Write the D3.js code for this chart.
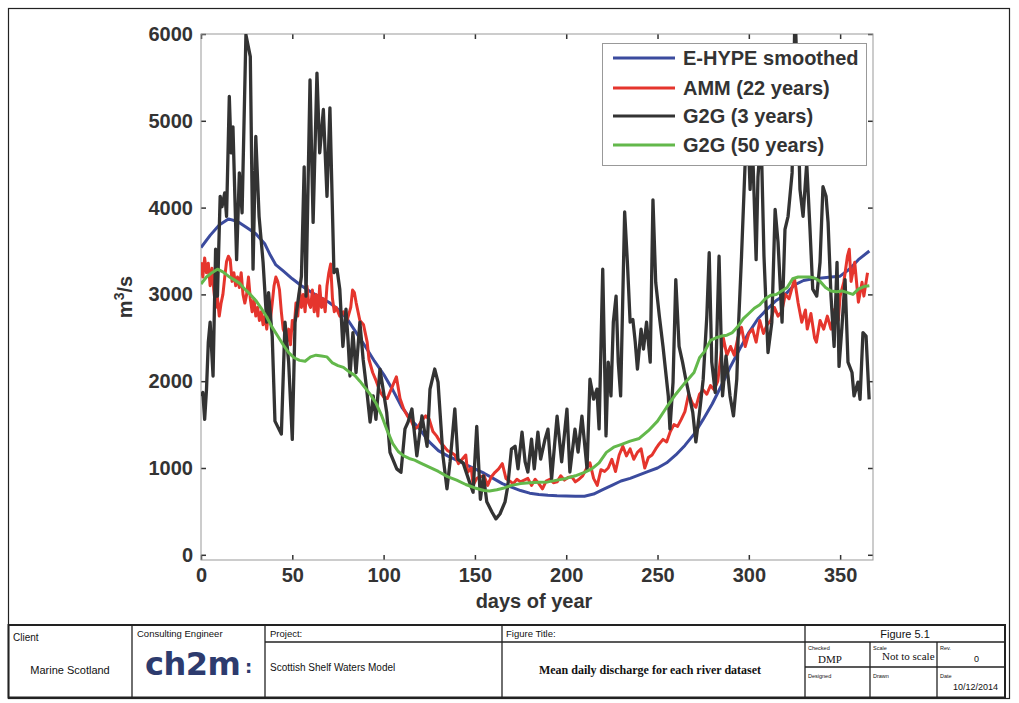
<!DOCTYPE html>
<html>
<head>
<meta charset="utf-8">
<script src="https://cdn.jsdelivr.net/npm/d3@7.9.0/dist/d3.min.js"></script>
<style>
  body { margin: 0; background: #fff; }
  svg { display: block; font-family: "Liberation Sans", Arial, sans-serif; }
</style>
</head>
<body>
<div id="viz"></div>
<script>
// ---- data: [day of year, discharge m3/s] ----
const eHypeSmoothed = [[0,3540],[5,3680],[10,3800],[15,3870],[20,3840],[25,3770],[30,3700],[35,3580],[38,3450],[41,3340],[45,3270],[50,3180],[55,3100],[60,3030],[65,2970],[70,2910],[75,2830],[80,2720],[85,2560],[90,2400],[95,2230],[100,2080],[105,1900],[110,1700],[115,1560],[120,1440],[125,1300],[130,1200],[135,1140],[140,1090],[145,1040],[150,990],[155,940],[160,880],[165,820],[170,780],[175,740],[180,710],[185,695],[190,685],[195,680],[200,678],[205,675],[210,675],[215,700],[220,750],[225,800],[230,850],[235,880],[240,920],[245,960],[250,1000],[255,1060],[260,1150],[265,1260],[270,1390],[275,1560],[280,1740],[285,1950],[290,2170],[295,2370],[300,2560],[305,2720],[310,2830],[315,2930],[320,3000],[325,3110],[330,3160],[335,3180],[340,3190],[345,3200],[350,3210],[355,3290],[360,3400],[366,3500]];

const amm22 = [[0,3370],[1,3200],[2,3420],[3,3250],[4,3360],[5,3100],[6,3300],[7,3050],[8,2850],[9,2960],[10,2750],[11,2900],[12,3000],[13,3200],[14,3380],[15,3440],[16,3400],[17,3150],[18,3250],[19,3100],[20,3200],[21,3080],[22,3250],[23,3000],[24,2900],[25,3000],[26,3200],[27,2950],[28,2800],[29,2950],[30,2750],[31,2850],[32,2700],[33,2800],[34,2650],[35,2750],[36,2600],[37,2800],[38,2700],[39,2900],[40,3100],[41,3200],[42,3150],[43,3050],[44,2800],[45,2600],[46,2550],[47,2450],[48,2600],[49,2420],[50,2700],[51,2600],[52,2900],[53,2750],[54,3050],[55,2850],[56,3000],[57,2800],[58,3100],[59,2900],[60,2850],[61,3050],[62,2800],[63,3000],[64,2750],[65,3100],[66,2850],[67,2950],[68,2800],[69,3100],[70,3250],[71,3350],[72,2950],[73,2800],[74,2850],[76,2750],[78,2800],[80,2700],[82,2850],[83,3050],[84,3020],[85,2900],[87,2700],[89,2650],[91,2450],[92,2250],[94,2100],[96,2000],[98,1880],[100,1820],[102,1800],[104,1900],[106,2000],[107,2050],[109,1800],[111,1680],[113,1600],[115,1550],[117,1450],[119,1480],[121,1550],[123,1600],[125,1560],[127,1420],[129,1370],[131,1300],[133,1250],[135,1200],[137,1180],[139,1150],[141,1050],[143,1100],[145,1150],[146,950],[148,1000],[149,800],[151,880],[153,900],[155,910],[157,800],[159,900],[161,950],[163,990],[165,1050],[167,880],[169,850],[171,820],[173,870],[175,840],[177,860],[179,880],[181,800],[183,870],[185,820],[187,760],[189,850],[191,870],[193,830],[195,840],[197,910],[199,860],[201,890],[203,900],[205,840],[207,870],[209,910],[211,990],[213,1060],[215,880],[217,800],[219,980],[221,960],[223,1000],[225,1100],[227,960],[229,1150],[231,1250],[233,1140],[235,1220],[237,1100],[239,1180],[241,1220],[243,1000],[245,1120],[247,1150],[249,1220],[251,1280],[253,1330],[255,1300],[257,1420],[259,1500],[261,1480],[263,1560],[265,1650],[267,1850],[269,1750],[271,1700],[273,1850],[275,1900],[277,1850],[279,1950],[281,1900],[283,2000],[285,2350],[286,2500],[288,2300],[290,2400],[292,2300],[294,2500],[296,2620],[298,2400],[300,2550],[302,2600],[304,2450],[306,2700],[308,2550],[310,2650],[312,2700],[314,2850],[316,2750],[318,2800],[320,3000],[322,2950],[324,3100],[325,3180],[327,2900],[329,2680],[331,2820],[332,2600],[334,2780],[336,2500],[337,2450],[339,2700],[341,2600],[343,2750],[345,2600],[347,2830],[349,2700],[350,2980],[352,3140],[354,3440],[355,3520],[356,3150],[358,3370],[360,2910],[362,3140],[363,2980],[365,3250]];

const g2g3 = [[0,1830],[1,1870],[2,1560],[3,1900],[4,2450],[5,2680],[6.6,2060],[8,3520],[9,2980],[10.5,4130],[11.5,4010],[13,4170],[14,3900],[15.5,5280],[16.5,4630],[17.5,4930],[19.5,3400],[21,4400],[22.5,3940],[24.6,5990],[27,5740],[28.5,3290],[30,4820],[31.8,3900],[34,3370],[36,2680],[37,3020],[39,2520],[40.5,1540],[44,1390],[46,2680],[48,2220],[50,1330],[51.5,2680],[55,3210],[56.5,4470],[57.5,2980],[59.7,5470],[61.4,3830],[63.5,5550],[65,4630],[67,5130],[69,4130],[70.6,5150],[72.8,3250],[74.5,3290],[76,3060],[77.7,2400],[79.4,2830],[80.5,2480],[81.6,2060],[83.2,2560],[84.9,2100],[87,2680],[88.8,2250],[90.7,1910],[92.6,1530],[94.3,1830],[95.8,1560],[98,2140],[101.7,1640],[103.5,1180],[107.2,990],[109.5,950],[111.7,1450],[113.4,1530],[115.5,1680],[118.2,1140],[121,1600],[123.8,1250],[125.4,1910],[128,2140],[129.8,1990],[132.5,1140],[134.7,760],[136.4,1070],[139,1680],[140.7,1100],[143.5,1060],[147,840],[149,720],[151,1480],[153,640],[154.7,910],[156.5,610],[159.4,490],[161.5,414],[163.7,470],[166.5,610],[168,793],[170,1218],[172,1250],[173.6,990],[175.8,1414],[177.5,1070],[179,954],[181,1333],[182.5,990],[184.5,1414],[186,1103],[188.4,1333],[190,1448],[192,874],[195,1598],[197.5,1070],[200.4,1678],[202,954],[204.8,1448],[206.5,1184],[208.6,1598],[211.4,990],[213,2023],[215,1793],[216.8,1908],[218,1450],[220,3290],[221.8,1370],[223,2220],[224.5,1830],[225.8,2680],[227.3,2980],[228.5,2220],[229.8,1830],[232,3950],[233.5,3370],[235,2680],[236.5,2710],[237.8,2450],[239,2140],[241,2600],[242.3,2370],[244,2680],[246,2220],[247.5,4090],[249,3140],[251,2750],[253,2400],[255.9,1830],[256.8,1450],[258.5,1990],[260,3170],[261.8,2400],[263.7,2220],[265.5,2020],[267.4,1830],[269.3,1640],[271,1300],[273,1640],[275,2020],[277,2750],[278.3,3480],[279.7,2220],[281.6,1870],[283.7,3440],[285.6,1830],[287.5,2290],[289.7,1830],[291.6,1600],[293.4,2020],[294.5,2710],[296,3440],[297.9,4470],[299.5,4930],[300.7,4210],[301.8,4860],[304,3400],[305,4350],[306.7,4860],[308.3,3440],[310.5,2330],[312.6,2680],[314.4,3980],[316,3600],[318.2,2680],[319.8,3750],[321.5,3900],[323.7,4400],[325.3,6300],[326.5,5470],[328,4210],[329.7,3900],[331.7,4510],[333.5,3750],[335,3060],[337.2,2980],[339,3370],[340.6,4240],[342.3,4130],[343.4,3830],[345,2980],[346.7,2400],[348.3,3370],[349.4,2170],[351,2630],[352.7,3170],[354.3,2220],[356.5,2100],[357.6,1830],[359.8,1990],[360.9,1790],[362.5,2560],[364.2,2520],[365.9,1790]];

const g2g50 = [[0,3120],[3,3200],[6,3250],[9,3290],[12,3260],[15,3210],[18,3170],[21,3130],[24,3060],[27,3000],[30,2930],[33,2840],[36,2740],[39,2620],[42,2520],[45,2420],[48,2330],[51,2270],[54,2240],[57,2230],[60,2280],[63,2300],[66,2290],[69,2280],[72,2210],[75,2180],[78,2160],[81,2110],[84,2070],[87,2000],[90,1920],[93,1840],[96,1740],[99,1600],[102,1430],[105,1280],[108,1190],[111,1140],[114,1110],[117,1090],[120,1060],[125,1010],[130,960],[135,900],[140,860],[145,810],[150,770],[155,740],[158,735],[162,750],[166,770],[170,800],[175,820],[180,830],[185,835],[190,840],[195,860],[200,880],[205,910],[210,950],[214,990],[218,1060],[222,1180],[226,1240],[230,1270],[235,1310],[240,1340],[245,1430],[250,1540],[255,1700],[260,1850],[265,1980],[270,2100],[273,2270],[276,2350],[279,2470],[282,2500],[285,2520],[288,2530],[291,2560],[294,2630],[297,2720],[300,2780],[303,2840],[306,2880],[309,2950],[312,2990],[315,3000],[318,3040],[321,3080],[324,3180],[327,3200],[330,3200],[333,3200],[336,3190],[339,3150],[342,3080],[345,3040],[348,3030],[351,3040],[354,3020],[357,3000],[360,3060],[363,3090],[366,3100]];

const seriesNames = ["E-HYPE smoothed", "AMM (22 years)", "G2G (3 years)", "G2G (50 years)"];
const seriesColors = ["#3b4b9e", "#e5352d", "#333333", "#63b84b"];
const xTicks = [0, 50, 100, 150, 200, 250, 300, 350];
const yTicks = [0, 1000, 2000, 3000, 4000, 5000, 6000];

const W = 1019, H = 703;
const svg = d3.select('#viz').append('svg')
    .attr('width', W)
    .attr('height', H);

// plot area (MATLAB style box)
const x = d3.scaleLinear().domain([0, 368]).range([201, 873]);
const y = d3.scaleLinear().domain([-60, 6000]).range([560, 34]);

svg.append('clipPath').attr('id', 'plotClip')
  .append('rect')
    .attr('x', x(0)).attr('y', y(6000))
    .attr('width', x(368) - x(0)).attr('height', y(-60) - y(6000));

// axes with inward ticks
svg.append('g')
    .attr('transform', `translate(${x(0)},0)`)
    .call(d3.axisLeft(y).tickValues(yTicks).tickFormat(d3.format('d')).tickSize(-5).tickPadding(8));
svg.append('g')
    .attr('transform', `translate(0,${y(-60)})`)
    .call(d3.axisBottom(x).tickValues(xTicks).tickFormat(d3.format('d')).tickSize(-5).tickPadding(8));
// ticks on right and top too
svg.append('g')
    .attr('transform', `translate(${x(368)},0)`)
    .call(d3.axisRight(y).tickValues(yTicks).tickSize(-5).tickFormat(''));
svg.append('g')
    .attr('transform', `translate(0,${y(6000)})`)
    .call(d3.axisTop(x).tickValues(xTicks).tickSize(-5).tickFormat(''));

svg.selectAll('.domain').remove();
svg.selectAll('.tick line').attr('stroke', '#333').attr('stroke-width', 1.5);
svg.selectAll('.tick text')
    .attr('font-family', '"Liberation Sans", Arial, sans-serif')
    .attr('font-size', 20)
    .attr('font-weight', 'bold')
    .attr('fill', '#333');

svg.append('rect')
    .attr('x', x(0)).attr('y', y(6000))
    .attr('width', x(368) - x(0)).attr('height', y(-60) - y(6000))
    .attr('fill', 'none')
    .attr('stroke', '#999')
    .attr('stroke-width', 1);

// lines
const line = d3.line()
    .x(d => x(d[0]))
    .y(d => y(d[1]));

const plotG = svg.append('g').attr('clip-path', 'url(#plotClip)');
[eHypeSmoothed, amm22, g2g3, g2g50].forEach((s, i) => {
  plotG.append('path')
    .datum(s)
    .attr('fill', 'none')
    .attr('stroke', seriesColors[i])
    .attr('stroke-width', i === 2 ? 3.3 : 3)
    .attr('stroke-linejoin', 'round')
    .attr('d', line);
});

// axis titles
svg.append('text')
    .attr('x', 534).attr('y', 608)
    .attr('text-anchor', 'middle')
    .attr('font-size', 20).attr('font-weight', 'bold').attr('fill', '#333')
    .text('days of year');

const yl = svg.append('text')
    .attr('transform', 'translate(132,297) rotate(-90)')
    .attr('text-anchor', 'middle')
    .attr('font-size', 20).attr('font-weight', 'bold').attr('fill', '#333');
yl.append('tspan').text('m');
yl.append('tspan').attr('font-size', 14).attr('dy', -8).text('3');
yl.append('tspan').attr('dy', 8).text('/s');

// legend
const legend = svg.append('g');
legend.append('rect')
    .attr('x', 602.5).attr('y', 43.5)
    .attr('width', 264).attr('height', 122)
    .attr('fill', '#fff').attr('stroke', '#999');
const legendRowsY = [58, 88, 116, 145];
const rows = legend.selectAll('.legendItem')
  .data(seriesNames)
  .join('g')
    .attr('class', 'legendItem')
    .attr('transform', (d, i) => `translate(0,${legendRowsY[i]})`);
rows.append('line')
    .attr('x1', 613).attr('x2', 675)
    .attr('stroke', (d, i) => seriesColors[i])
    .attr('stroke-width', 3);
rows.append('text')
    .attr('x', 683).attr('dy', '0.35em')
    .attr('font-size', 20).attr('font-weight', 'bold').attr('fill', '#333')
    .text(d => d);

// ---- drawing frame and title block ----
const frame = svg.append('g').attr('fill', 'none').attr('stroke', '#222');
frame.append('rect').attr('x', 8.5).attr('y', 8.5).attr('width', 1001).attr('height', 690).attr('stroke-width', 1.2);
frame.append('rect').attr('x', 8.5).attr('y', 625).attr('width', 996.5).attr('height', 72.5).attr('stroke-width', 2);
const blockLines = [
  [132, 625, 132, 697], [265, 625, 265, 697], [502, 625, 502, 697], [805, 625, 805, 697],
  [265, 642, 1005, 642], [805, 667, 1005, 667], [870, 642, 870, 697], [937, 642, 937, 697]
];
frame.selectAll('line.block').data(blockLines).join('line')
    .attr('x1', d => d[0]).attr('y1', d => d[1])
    .attr('x2', d => d[2]).attr('y2', d => d[3])
    .attr('stroke-width', 1.3);

const tb = svg.append('g').attr('fill', '#111');
function label(txt, xp, yp, size, opts = {}) {
  return tb.append('text')
    .attr('x', xp).attr('y', yp)
    .attr('font-size', size)
    .attr('font-family', opts.serif ? '"Liberation Serif", "Times New Roman", serif' : '"Liberation Sans", Arial, sans-serif')
    .attr('font-weight', opts.bold ? 'bold' : 'normal')
    .attr('text-anchor', opts.anchor || 'start')
    .text(txt);
}
label('Client', 13, 641, 10);
label('Marine Scotland', 70, 674, 11, {anchor: 'middle'});
label('Consulting Engineer', 137, 637, 9.5);
label('Project:', 270, 637, 9.5);
label('Scottish Shelf Waters Model', 270, 671, 10);
label('Figure Title:', 506, 637, 9.5);
label('Mean daily discharge for each river dataset', 650, 674, 12, {serif: true, bold: true, anchor: 'middle'});
label('Figure 5.1', 905, 638, 11, {anchor: 'middle'});
label('Checked', 808, 650, 5.5);
label('DMP', 818, 663, 11, {serif: true});
label('Scale', 873, 650, 5.5);
label('Not to scale', 882, 660, 11, {serif: true});
label('Rev.', 940, 650, 5.5);
label('0', 974, 662, 9);
label('Designed', 808, 678, 5.5);
label('Drawn', 873, 678, 5.5);
label('Date', 940, 678, 5.5);
label('10/12/2014', 953, 690, 9);

// ch2m logo as text
tb.append('text')
    .attr('x', 145).attr('y', 675)
    .attr('font-family', '"DejaVu Sans", sans-serif')
    .attr('font-weight', 'bold')
    .attr('font-size', 32)
    .attr('fill', '#2d3b6e')
    .attr('letter-spacing', -0.5)
    .text('ch2m');
tb.append('text')
    .attr('x', 245).attr('y', 673)
    .attr('font-family', '"DejaVu Sans", sans-serif')
    .attr('font-weight', 'bold')
    .attr('font-size', 18)
    .attr('fill', '#2d3b6e')
    .text(':');
</script>
</body>
</html>
